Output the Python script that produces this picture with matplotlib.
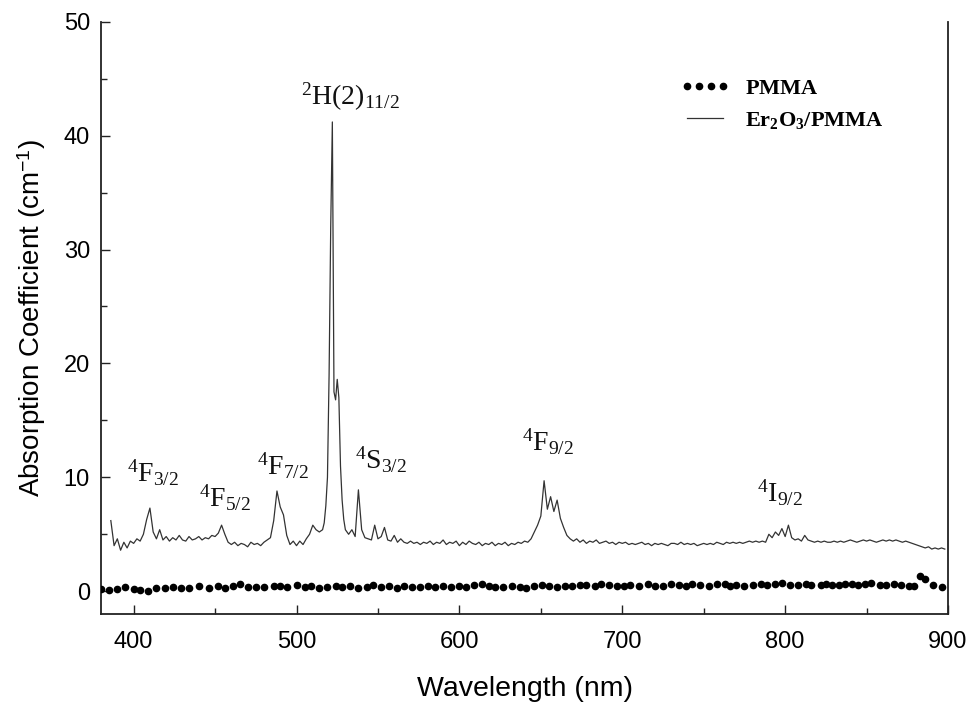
import numpy as np
import matplotlib
matplotlib.use("Agg")
import matplotlib.pyplot as plt
from matplotlib.lines import Line2D

plt.rcParams['font.family'] = ['Liberation Sans', 'DejaVu Sans']
plt.rcParams['mathtext.fontset'] = 'custom'
plt.rcParams['mathtext.rm'] = 'Liberation Serif'
plt.rcParams['mathtext.it'] = 'Liberation Serif:italic'
plt.rcParams['mathtext.bf'] = 'Liberation Serif:bold'
plt.rcParams['mathtext.sf'] = 'Liberation Sans'

# ---------------- data ----------------
# Er2O3/PMMA absorption spectrum (wavelength grid in nm)
er_wl = np.concatenate([np.arange(386, 516, 2), np.arange(516, 531, 1), np.arange(532, 899, 2)])
er_val_a = [6.2, 4.0, 4.6, 3.6, 4.3, 3.8, 4.4, 4.2, 4.6, 4.4,
            5.0, 6.3, 7.3, 5.2, 4.6, 5.4, 4.5, 4.8, 4.4, 4.7,
            4.5, 4.9, 4.5, 4.4, 4.8, 4.5, 4.6, 4.8, 4.5, 4.7,
            4.6, 4.9, 4.8, 5.1, 5.8, 5.0, 4.3, 4.1, 4.3, 4.0,
            4.2, 4.1, 3.9, 4.3, 4.1, 4.2, 4.0, 4.3, 4.5, 4.7,
            6.2, 8.8, 7.4, 6.7, 4.9, 4.1, 4.4, 4.0, 4.4, 4.1,
            4.6, 5.0, 5.8, 5.4, 5.2]
er_val_b = [5.4, 6.0, 7.5, 10.0, 19.0, 32.0, 41.2, 17.5, 16.8, 18.6,
            17.0, 11.0, 8.0, 6.3, 5.4]
er_val_c = [5.0, 5.4, 4.8, 8.9, 5.4, 4.7, 4.6, 4.5, 5.8, 4.6,
            4.8, 5.6, 4.5, 4.4, 4.9, 4.3, 4.6, 4.3, 4.2, 4.4,
            4.2, 4.3, 4.1, 4.3, 4.2, 4.4, 4.1, 4.3, 4.2, 4.5,
            4.1, 4.3, 4.2, 4.4, 4.0, 4.3, 4.1, 4.4, 4.2, 4.1,
            4.3, 4.0, 4.2, 4.1, 4.3, 4.0, 4.2, 4.1, 4.3, 4.0,
            4.2, 4.1, 4.3, 4.2, 4.4, 4.3, 4.6, 5.2, 5.8, 6.6,
            9.7, 7.2, 8.3, 7.0, 8.0, 6.4, 5.6, 4.9, 4.6, 4.4,
            4.6, 4.3, 4.5, 4.2, 4.4, 4.3, 4.5, 4.2, 4.3, 4.4,
            4.2, 4.3, 4.1, 4.3, 4.2, 4.3, 4.1, 4.2, 4.1, 4.2,
            4.3, 4.1, 4.2, 4.0, 4.2, 4.1, 4.2, 4.1, 4.0, 4.2,
            4.2, 4.1, 4.3, 4.1, 4.2, 4.1, 4.2, 4.0, 4.1, 4.2,
            4.1, 4.2, 4.1, 4.3, 4.2, 4.1, 4.3, 4.2, 4.3, 4.2,
            4.3, 4.2, 4.3, 4.4, 4.3, 4.4, 4.3, 4.4, 4.3, 5.0,
            4.7, 5.2, 4.9, 5.5, 4.8, 5.8, 4.7, 4.5, 4.6, 4.4,
            4.9, 4.5, 4.4, 4.3, 4.4, 4.3, 4.4, 4.3, 4.3, 4.4,
            4.3, 4.4, 4.3, 4.4, 4.5, 4.4, 4.3, 4.4, 4.5, 4.4,
            4.5, 4.4, 4.3, 4.4, 4.5, 4.4, 4.5, 4.4, 4.5, 4.4,
            4.3, 4.4, 4.3, 4.2, 4.1, 4.0, 3.9, 3.8, 3.9, 3.7,
            3.8, 3.7, 3.8, 3.7]
er_val = np.array(er_val_a + er_val_b + er_val_c)

# PMMA absorption (dotted)
pmma_wl = [380, 385, 390, 395, 400, 404, 409, 414, 419, 424,
           429, 434, 440, 446, 452, 456, 461, 465, 470, 475,
           480, 486, 490, 494, 500, 505, 509, 514, 519, 524,
           528, 533, 538, 543, 547, 552, 557, 562, 566, 571,
           576, 581, 585, 590, 595, 600, 604, 609, 614, 618,
           622, 627, 632, 637, 641, 646, 651, 655, 660, 665,
           669, 674, 678, 683, 687, 692, 697, 701, 705, 710,
           716, 720, 725, 730, 735, 739, 743, 748, 753, 758,
           763, 766, 770, 775, 780, 785, 789, 794, 798, 803,
           808, 813, 816, 822, 825, 829, 833, 837, 841, 845,
           849, 853, 858, 862, 867, 871, 876, 879, 883, 886,
           891, 896]
pmma_val = [0.21, 0.09, 0.21, 0.35, 0.21, 0.15, 0.06, 0.26, 0.29, 0.39,
            0.26, 0.29, 0.50, 0.24, 0.44, 0.29, 0.50, 0.65, 0.39, 0.39,
            0.39, 0.44, 0.44, 0.39, 0.56, 0.35, 0.45, 0.30, 0.40, 0.48,
            0.35, 0.42, 0.30, 0.38, 0.52, 0.36, 0.44, 0.31, 0.47, 0.40,
            0.33, 0.45, 0.37, 0.50, 0.34, 0.42, 0.38, 0.55, 0.62, 0.47,
            0.40, 0.33, 0.45, 0.38, 0.30, 0.42, 0.55, 0.48, 0.40, 0.50,
            0.44, 0.58, 0.52, 0.46, 0.60, 0.55, 0.50, 0.45, 0.58, 0.50,
            0.62, 0.50, 0.47, 0.62, 0.55, 0.50, 0.65, 0.57, 0.50, 0.62,
            0.60, 0.50, 0.57, 0.47, 0.52, 0.62, 0.55, 0.62, 0.68, 0.57,
            0.52, 0.62, 0.55, 0.52, 0.62, 0.55, 0.58, 0.60, 0.62, 0.55,
            0.62, 0.73, 0.52, 0.55, 0.60, 0.55, 0.48, 0.42, 1.32, 1.03,
            0.59, 0.35]

xticks_major = [400, 500, 600, 700, 800, 900]
yticks_major = [0, 10, 20, 30, 40, 50]

# transition labels: (text, wavelength, value)
label_text = [r'$\mathrm{{}^{4}F_{3/2}}$', r'$\mathrm{{}^{4}F_{5/2}}$', r'$\mathrm{{}^{4}F_{7/2}}$',
              r'$\mathrm{{}^{2}H(2)_{11/2}}$', r'$\mathrm{{}^{4}S_{3/2}}$', r'$\mathrm{{}^{4}F_{9/2}}$',
              r'$\mathrm{{}^{4}I_{9/2}}$']
label_wl = [396, 440, 475.5, 503, 535.8, 638.4, 782.7]
label_val = [9.6, 7.4, 10.2, 42.7, 10.8, 12.3, 7.9]

# ---------------- figure ----------------
fig = plt.figure(figsize=(9.67, 7.03), dpi=100)
ax = fig.add_axes([0.1045, 0.1266, 0.8759, 0.8425])

ax.plot(pmma_wl, pmma_val, ls='none', marker='o', ms=4.5, color='black', zorder=3)
ax.plot(er_wl, er_val, color='#333333', lw=0.9, zorder=2)

ax.set_xlim(380, 900)
ax.set_ylim(-2, 50)
ax.set_xticks(xticks_major)
ax.set_xticks([450, 550, 650, 750, 850], minor=True)
ax.set_yticks(yticks_major)
ax.set_yticks([5, 15, 25, 35, 45], minor=True)
ax.tick_params(which='both', direction='in', labelsize=17, width=1.0, color='#222222')
ax.tick_params(which='major', length=6.5)
ax.tick_params(which='minor', length=4.5)
ax.tick_params(axis='x', pad=12)
ax.tick_params(axis='y', pad=8)
for s in ['left', 'bottom', 'right']:
    ax.spines[s].set_linewidth(1.3)
    ax.spines[s].set_color('#222222')
ax.spines['top'].set_visible(False)

ax.set_xlabel('Wavelength (nm)', fontsize=20.5, labelpad=17)
ax.set_ylabel(r'Absorption Coefficient (cm$^{\mathsf{-1}}$)', fontsize=20, labelpad=11)

for t, x, y in zip(label_text, label_wl, label_val):
    ax.text(x, y, t, fontsize=20, ha='left', va='baseline', color='#111111')

handles = [Line2D([], [], ls='none', marker='o', ms=4.5, color='black'),
           Line2D([], [], color='#333333', lw=0.9)]
labels = [r'$\mathbf{PMMA}$', r'$\mathbf{Er_2O_3/PMMA}$']
ax.legend(handles, labels, loc='upper left', bbox_to_anchor=(0.684, 0.905),
          frameon=False, numpoints=4, handlelength=2.2, handletextpad=0.7,
          borderpad=0, borderaxespad=0, labelspacing=0.5, fontsize=16)

fig.savefig('out.png', dpi=100)
